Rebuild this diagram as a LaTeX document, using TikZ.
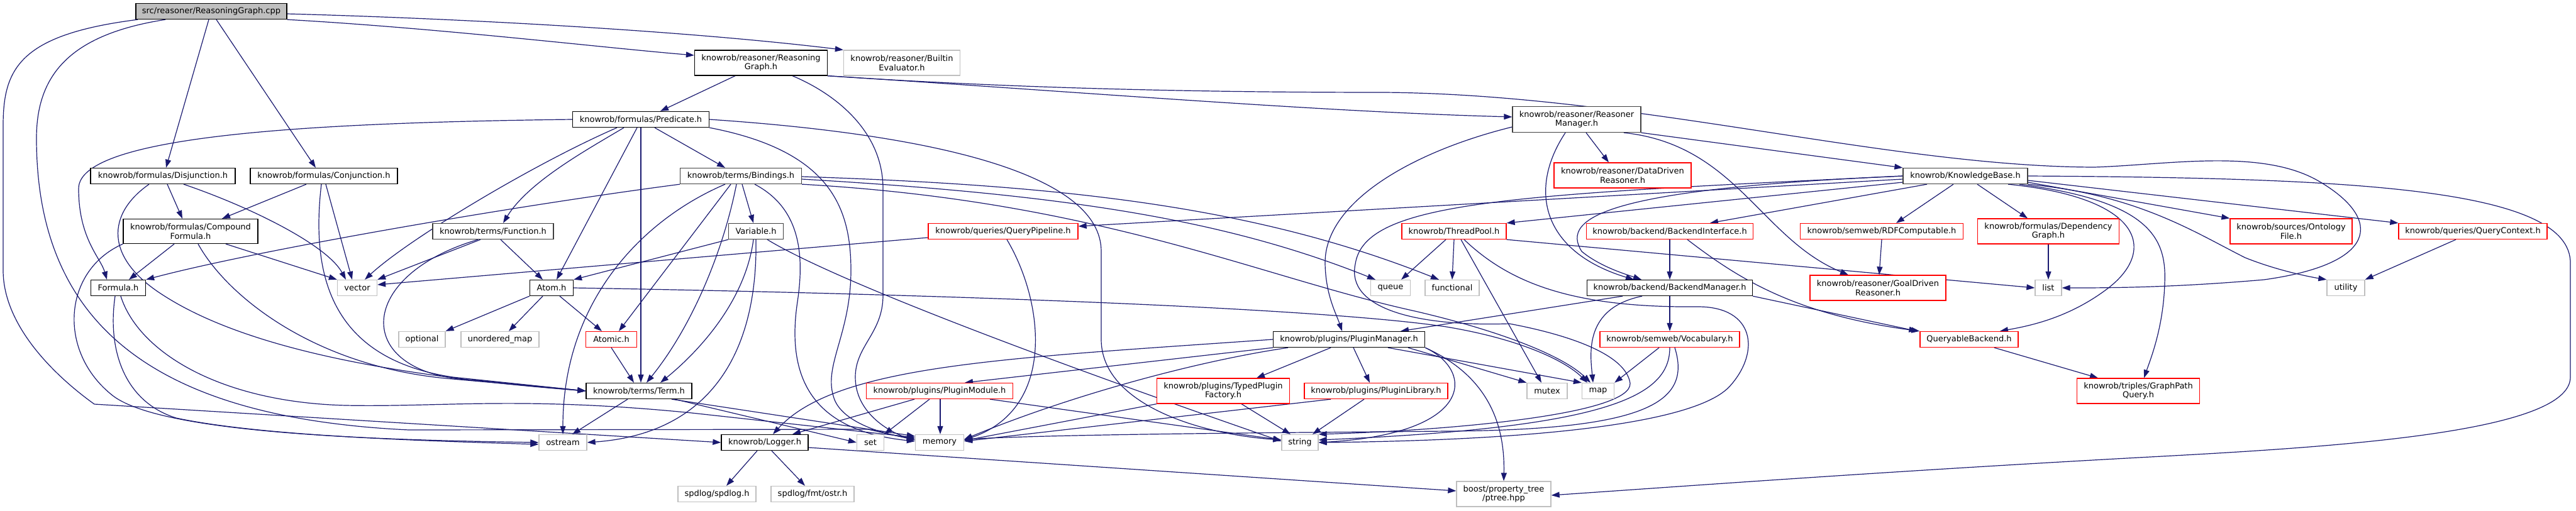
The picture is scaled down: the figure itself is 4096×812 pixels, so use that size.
\documentclass[tikz,border=0pt]{standalone}
\usepackage{fontspec}
\setmainfont{DejaVu Sans}
\usetikzlibrary{arrows.meta,backgrounds}
\definecolor{eb}{HTML}{191970}
\definecolor{sg}{HTML}{BFBFBF}
\definecolor{rd}{HTML}{FF0000}
\definecolor{dg}{HTML}{404040}
\begin{document}
\begin{tikzpicture}[x=1pt,y=-1pt,
  nd/.style={draw=black, fill=white, line width=1.3pt, inner sep=3pt, font=\fontsize{13}{14.5}\selectfont, align=center},
  sys/.style={nd, draw=sg},
  trunc/.style={nd, draw=rd},
  ed/.style={draw=eb, line width=1.2pt, -{Triangle[length=13pt,width=9pt]}}]
\useasboundingbox (0,0) rectangle (4096,812);
% ---------- nodes ----------
\node[nd, fill=sg, minimum width=240pt, minimum height=25pt] (cpp) at (336,18) {src/reasoner/ReasoningGraph.cpp};
\node[nd, minimum width=211pt, minimum height=40pt] (rgh) at (1210,100) {knowrob/reasoner/Reasoning\\Graph.h};
\node[sys, minimum width=185pt, minimum height=40pt] (be) at (1434,100) {knowrob/reasoner/Builtin\\Evaluator.h};
\node[nd, minimum width=217pt, minimum height=25pt] (pred) at (1019,190) {knowrob/formulas/Predicate.h};
\node[nd, draw=dg, minimum width=204pt, minimum height=41pt] (rm) at (2507,190) {knowrob/reasoner/Reasoner\\Manager.h};
\node[nd, minimum width=230pt, minimum height=25pt] (disj) at (259,280) {knowrob/formulas/Disjunction.h};
\node[nd, minimum width=234pt, minimum height=25pt] (conj) at (515,280) {knowrob/formulas/Conjunction.h};
\node[nd, draw=dg, minimum width=193pt, minimum height=25pt] (bind) at (1178,280) {knowrob/terms/Bindings.h};
\node[trunc, minimum width=218pt, minimum height=40pt] (ddr) at (2580,279) {knowrob/reasoner/DataDriven\\Reasoner.h};
\node[nd, draw=dg, minimum width=198pt, minimum height=25pt] (kb) at (3125,280) {knowrob/KnowledgeBase.h};
\node[nd, minimum width=214pt, minimum height=39pt] (cf) at (303,368) {knowrob/formulas/Compound\\Formula.h};
\node[nd, draw=dg, minimum width=192pt, minimum height=25pt] (func) at (784,368) {knowrob/terms/Function.h};
\node[nd, draw=dg, minimum width=87pt, minimum height=25pt] (var) at (1202,368) {Variable.h};
\node[trunc, minimum width=238pt, minimum height=25pt] (qp) at (1595,368) {knowrob/queries/QueryPipeline.h};
\node[trunc, minimum width=166pt, minimum height=25pt] (tp) at (2312,368) {knowrob/ThreadPool.h};
\node[trunc, minimum width=265pt, minimum height=25pt] (bi) at (2655,368) {knowrob/backend/BackendInterface.h};
\node[trunc, minimum width=259pt, minimum height=25pt] (rdf) at (2992,368) {knowrob/semweb/RDFComputable.h};
\node[trunc, minimum width=225pt, minimum height=40pt] (dg) at (3257,368) {knowrob/formulas/Dependency\\Graph.h};
\node[trunc, minimum width=194pt, minimum height=40pt] (of) at (3643,368) {knowrob/sources/Ontology\\File.h};
\node[trunc, minimum width=236pt, minimum height=25pt] (qc) at (3932,368) {knowrob/queries/QueryContext.h};
\node[nd, minimum width=87pt, minimum height=25pt] (formula) at (188,458) {Formula.h};
\node[sys, minimum width=63pt, minimum height=25pt] (vector) at (568,458) {vector};
\node[nd, minimum width=69pt, minimum height=25pt] (atom) at (877,458) {Atom.h};
\node[sys, minimum width=63pt, minimum height=25pt] (queue) at (2211,458) {queue};
\node[sys, minimum width=86pt, minimum height=25pt] (functional) at (2309,458) {functional};
\node[nd, minimum width=263pt, minimum height=25pt] (bm) at (2655,458) {knowrob/backend/BackendManager.h};
\node[trunc, minimum width=216pt, minimum height=40pt] (gdr) at (2986,458) {knowrob/reasoner/GoalDriven\\Reasoner.h};
\node[sys, minimum width=42pt, minimum height=25pt] (list) at (3257,458) {list};
\node[sys, minimum width=60pt, minimum height=25pt] (utility) at (3730,458) {utility};
\node[sys, minimum width=74pt, minimum height=25pt] (optional) at (671,540) {optional};
\node[sys, minimum width=124pt, minimum height=25pt] (umap) at (795,540) {unordered\_map};
\node[trunc, minimum width=81pt, minimum height=25pt] (atomic) at (972,540) {Atomic.h};
\node[nd, minimum width=241pt, minimum height=25pt] (pm) at (2145,540) {knowrob/plugins/PluginManager.h};
\node[trunc, minimum width=222pt, minimum height=25pt] (voc) at (2655,540) {knowrob/semweb/Vocabulary.h};
\node[trunc, minimum width=156pt, minimum height=25pt] (qb) at (3131,540) {QueryableBackend.h};
\node[nd, minimum width=168pt, minimum height=25pt] (term) at (1016,622) {knowrob/terms/Term.h};
\node[trunc, minimum width=233pt, minimum height=25pt] (pmod) at (1494,622) {knowrob/plugins/PluginModule.h};
\node[trunc, minimum width=211pt, minimum height=40pt] (tpf) at (1945,622) {knowrob/plugins/TypedPlugin\\Factory.h};
\node[trunc, minimum width=228pt, minimum height=25pt] (pl) at (2188,622) {knowrob/plugins/PluginLibrary.h};
\node[sys, minimum width=64pt, minimum height=25pt] (mutex) at (2460,622) {mutex};
\node[sys, minimum width=51pt, minimum height=25pt] (map) at (2541,622) {map};
\node[trunc, minimum width=195pt, minimum height=40pt] (gpq) at (3400,622) {knowrob/triples/GraphPath\\Query.h};
\node[sys, minimum width=76pt, minimum height=25pt] (ostream) at (895,704) {ostream};
\node[nd, minimum width=138pt, minimum height=25pt] (logger) at (1216,704) {knowrob/Logger.h};
\node[sys, minimum width=43pt, minimum height=25pt] (set) at (1384,704) {set};
\node[sys, minimum width=77pt, minimum height=25pt] (memory) at (1494,704) {memory};
\node[sys, minimum width=58pt, minimum height=25pt] (string) at (2067,704) {string};
\node[sys, minimum width=124pt, minimum height=25pt] (spdlog) at (1140,786) {spdlog/spdlog.h};
\node[sys, minimum width=132pt, minimum height=25pt] (fmt) at (1292,786) {spdlog/fmt/ostr.h};
\node[sys, minimum width=150pt, minimum height=40pt] (ptree) at (2391,786) {boost/property\_tree\\/ptree.hpp};
% ---------- edges ----------
\begin{scope}[on background layer]
\fill[white] (0,0) rectangle (4096,812);
% cpp
\draw[ed] (cpp.south east) .. controls (700,45) and (950,75) .. ([yshift=12pt]rgh.west);
\draw[ed] ([yshift=-4pt]cpp.east) .. controls (750,30) and (1100,50) .. (be.north west);
\draw[ed] ([xshift=-4pt]cpp.south) -- ([xshift=5pt]disj.north);
\draw[ed] ([xshift=8pt]cpp.south) -- ([xshift=-13pt]conj.north);
\draw[ed] ([xshift=-117pt]cpp.south) .. controls (30,55) and (5,110) .. (5,200) -- (5,430) .. controls (5,520) and (90,600) .. (150,643) -- (logger.west);
\draw[ed] ([xshift=-73pt]cpp.south) .. controls (110,55) and (58,120) .. (58,220) .. controls (58,520) and (250,665) .. (650,684) -- (1380,683) -- ([yshift=4pt]memory.west);
% ReasoningGraph.h
\draw[ed] ([xshift=-41pt]rgh.south) -- ([xshift=31pt]pred.north);
\draw[ed] (rgh.south east) .. controls (1700,145) and (2100,178) .. ([yshift=4pt]rm.west);
\draw[ed] (rgh.south east) .. controls (1600,140) and (1900,147) .. (2200,147) .. controls (2600,150) and (3000,265) .. (3330,266) .. controls (3450,262) and (3600,235) .. (3690,290) .. controls (3790,350) and (3780,420) .. (3600,445) .. controls (3450,458) and (3350,458) .. (list.east);
\draw[ed] ([xshift=50pt]rgh.south) .. controls (1330,150) and (1404,210) .. (1404,300) -- (1404,470) .. controls (1404,530) and (1360,550) .. (1360,600) .. controls (1360,660) and (1420,690) .. ([yshift=4pt]memory.west);
% Predicate.h
\draw[ed] (pred.west) .. controls (500,195) and (125,215) .. (125,300) .. controls (125,380) and (160,410) .. ([xshift=-18pt]formula.north);
\draw[ed] ([xshift=-38pt]pred.south) .. controls (850,260) and (650,380) .. ([xshift=12pt]vector.north);
\draw[ed] ([xshift=-27pt]pred.south) .. controls (930,240) and (840,290) .. ([xshift=16pt]func.north);
\draw[ed] ([xshift=-6pt]pred.south) -- ([xshift=8pt]atom.north);
\draw[ed] (pred.south) -- ([xshift=3pt]term.north);
\draw[ed] ([xshift=22pt]pred.south) -- ([xshift=-25pt]bind.north);
\draw[ed] (pred.east) .. controls (1500,215) and (1751,280) .. (1751,400) -- (1751,540) .. controls (1751,640) and (1900,690) .. ([yshift=4pt]string.west);
\draw[ed] (pred.south east) .. controls (1320,240) and (1353,330) .. (1353,430) .. controls (1353,530) and (1310,580) .. (1325,630) .. controls (1335,670) and (1400,690) .. ([yshift=6pt]memory.west);
% Bindings.h
\draw[ed] (bind.south west) .. controls (800,330) and (400,400) .. (formula.north east);
\draw[ed] ([xshift=-25pt]bind.south) .. controls (1020,350) and (895,480) .. (ostream.north);
\draw[ed] ([xshift=-16pt]bind.south) -- ([xshift=12pt]atomic.north);
\draw[ed] ([xshift=-7pt]bind.south) .. controls (1150,400) and (1100,520) .. ([xshift=12pt]term.north);
\draw[ed] ([xshift=2pt]bind.south) -- ([xshift=-4pt]var.north);
\draw[ed] ([xshift=22pt]bind.south) .. controls (1270,330) and (1280,400) .. (1268,480) .. controls (1250,600) and (1290,685) .. ([yshift=2pt]memory.west);
\draw[ed] ([yshift=-1pt]bind.east) .. controls (1700,295) and (2000,330) .. ([xshift=-21pt]functional.north);
\draw[ed] ([yshift=-5pt]bind.east) .. controls (1700,310) and (1950,350) .. ([xshift=-24pt]queue.north);
\draw[ed] (bind.south east) .. controls (1750,320) and (2000,440) .. (2250,495) .. controls (2400,530) and (2490,570) .. ([xshift=-12pt]map.north);
% Variable.h
\draw[ed] (var.south west) -- (atom.north east);
\draw[ed] ([xshift=-4pt]var.south) .. controls (1185,480) and (1110,560) .. ([xshift=34pt]term.north);
\draw[ed] (var.south) .. controls (1205,560) and (1130,690) .. (ostream.east);
\draw[ed] ([xshift=18pt]var.south) .. controls (1350,460) and (1800,620) .. ([yshift=2pt]string.west);
% Function.h
\draw[ed] ([xshift=-20pt]func.south) -- (vector.north east);
\draw[ed] ([xshift=-24pt]func.south) .. controls (560,440) and (560,600) .. (760,605) -- (term.west);
\draw[ed] ([xshift=12pt]func.south) -- ([xshift=-14pt]atom.north);
% Disjunction.h
\draw[ed] ([xshift=7pt]disj.south) -- ([xshift=-13pt]cf.north);
\draw[ed] ([xshift=33pt]disj.south) .. controls (400,330) and (520,390) .. ([xshift=-18pt]vector.north);
\draw[ed] ([xshift=-22pt]disj.south) .. controls (170,340) and (165,410) .. (260,470) .. controls (400,560) and (650,600) .. (term.west);
% Conjunction.h
\draw[ed] ([xshift=-28pt]conj.south) -- ([xshift=50pt]cf.north);
\draw[ed] ([xshift=3pt]conj.south) -- ([xshift=-8pt]vector.north);
\draw[ed] ([xshift=-4pt]conj.south) .. controls (495,430) and (520,570) .. (720,600) -- (term.west);
% CompoundFormula.h
\draw[ed] ([xshift=-26pt]cf.south) -- ([xshift=17pt]formula.north);
\draw[ed] ([xshift=12pt]cf.south) .. controls (360,470) and (500,585) .. (720,603) -- (term.west);
\draw[ed] ([xshift=56pt]cf.south) -- (vector.north west);
\draw[ed] (cf.south west) .. controls (100,430) and (90,560) .. (180,630) .. controls (260,690) and (600,700) .. (ostream.west);
% Formula.h
\draw[ed] ([xshift=-5pt]formula.south) .. controls (170,560) and (200,640) .. (280,665) .. controls (420,695) and (700,702) .. ([yshift=-3pt]ostream.west);
\draw[ed] ([xshift=4pt]formula.south) .. controls (220,560) and (350,640) .. (550,645) .. controls (700,648) and (830,630) .. (1100,657) -- ([yshift=8pt]memory.west);
% Term.h
\draw[ed] ([xshift=-18pt]term.south) -- ([xshift=15pt]ostream.north);
\draw[ed] ([xshift=57pt]term.south) -- (set.west);
\draw[ed] ([xshift=52pt]term.south) -- ([yshift=10pt]memory.west);
% Atom.h
\draw[ed] (atom.south west) -- (optional.north east);
\draw[ed] ([xshift=-14pt]atom.south) -- ([xshift=14pt]umap.north);
\draw[ed] ([xshift=13pt]atom.south) -- ([xshift=-15pt]atomic.north);
\draw[ed] (atom.east) .. controls (1500,468) and (2100,490) .. (2300,520) .. controls (2420,540) and (2490,575) .. ([xshift=-17pt]map.north);
\draw[ed] (atomic.south) -- ([xshift=-8pt]term.north);
% QueryPipeline.h
\draw[ed] ([yshift=-10pt]qp.west) -- ([yshift=5pt]vector.east);
\draw[ed] ([xshift=6pt]qp.south) .. controls (1660,480) and (1680,650) .. ([yshift=4pt]memory.east);
% ReasonerManager.h
\draw[ed] ([yshift=-12pt]rm.west) .. controls (2250,240) and (2105,320) .. (2107,420) .. controls (2108,470) and (2125,500) .. ([xshift=-11pt]pm.north);
\draw[ed] ([xshift=-18pt]rm.south) .. controls (2430,300) and (2450,400) .. ([xshift=-57pt]bm.north);
\draw[ed] ([xshift=15pt]rm.south) -- ([xshift=-22pt]ddr.north);
\draw[ed] ([xshift=75pt]rm.south) .. controls (2760,230) and (2800,380) .. ([xshift=-47pt]gdr.north);
\draw[ed] (rm.south east) -- (kb.north west);
% KnowledgeBase.h
\draw[ed] ([yshift=-5pt]kb.west) -- ([yshift=8pt]qp.east);
\draw[ed] ([yshift=-10pt]kb.west) -- (tp.north east);
\draw[ed] ([xshift=-61pt]kb.south) -- ([xshift=64pt]bi.north);
\draw[ed] ([xshift=-19pt]kb.south) -- ([xshift=23pt]rdf.north);
\draw[ed] ([xshift=19pt]kb.south) -- ([xshift=-33pt]dg.north);
\draw[ed] (kb.east) .. controls (3750,283) and (4090,300) .. (4087,420) -- (4087,600) .. controls (4087,690) and (3700,712) .. (3400,728) .. controls (3000,750) and (2700,772) .. ([yshift=-2pt]ptree.east);
\draw[ed] ([yshift=-7pt]kb.east) -- (qc.north west);
\draw[ed] ([yshift=-10pt]kb.east) -- (of.north west);
\draw[ed] (kb.south east) .. controls (3400,310) and (3490,370) .. (3570,410) .. controls (3620,430) and (3670,440) .. (utility.north west);
\draw[ed] ([xshift=68pt]kb.south) .. controls (3410,315) and (3430,400) .. (3350,460) .. controls (3290,505) and (3230,518) .. ([xshift=49pt]qb.north);
\draw[ed] ([xshift=86pt]kb.south) .. controls (3420,320) and (3445,380) .. (3442,450) .. controls (3440,520) and (3420,570) .. ([xshift=9pt]gpq.north);
\draw[ed] (kb.west) .. controls (2560,300) and (2480,345) .. (2515,400) .. controls (2545,425) and (2590,438) .. ([xshift=-45pt]bm.north);
\draw[ed] (kb.west) .. controls (2400,310) and (2170,320) .. (2155,420) .. controls (2140,490) and (2250,520) .. (2400,515) .. controls (2480,530) and (2585,560) .. (2592,610) .. controls (2594,660) and (2300,685) .. (string.north east);
% BackendInterface.h
\draw[ed] (bi) -- (bm);
\draw[ed] ([xshift=28pt]bi.south) .. controls (2760,440) and (2850,500) .. (qb.north west);
% BackendManager.h
\draw[ed] ([xshift=-75pt]bm.south) -- ([xshift=82pt]pm.north);
\draw[ed] ([xshift=-44pt]bm.south) .. controls (2520,490) and (2528,560) .. ([xshift=-8pt]map.north);
\draw[ed] (bm) -- (voc);
\draw[ed] (bm.south east) -- ([xshift=-4pt]qb.north west);
% PluginManager.h
\draw[ed] (pm.west) .. controls (1600,570) and (1330,580) .. ([xshift=13pt]logger.north);
\draw[ed] (pm.south west) -- ([xshift=40pt]pmod.north);
\draw[ed] ([xshift=-97pt]pm.south) .. controls (1900,575) and (1700,630) .. ([yshift=5pt]memory.east);
\draw[ed] ([xshift=-29pt]pm.south) -- ([xshift=53pt]tpf.north);
\draw[ed] ([xshift=7pt]pm.south) -- ([xshift=-10pt]pl.north);
\draw[ed] ([xshift=62pt]pm.south) -- (map.north west);
\draw[ed] ([xshift=94pt]pm.south) -- (mutex.north west);
\draw[ed] (pm.south east) .. controls (2345,590) and (2345,690) .. (string.east);
\draw[ed] (pm.south east) .. controls (2370,600) and (2393,680) .. (ptree.north);
% PluginModule.h
\draw[ed] ([xshift=-40pt]pmod.south) -- ([xshift=44pt]logger.north);
\draw[ed] ([xshift=-16pt]pmod.south) -- (set.north east);
\draw[ed] ([xshift=1pt]pmod.south) -- ([xshift=1pt]memory.north);
\draw[ed] ([xshift=80pt]pmod.south) -- ([yshift=4pt]string.west);
% TypedPluginFactory.h
\draw[ed] (tpf.south west) -- ([yshift=3pt]memory.east);
\draw[ed] ([xshift=29pt]tpf.south) -- ([xshift=-15pt]string.north);
% PluginLibrary.h
\draw[ed] ([xshift=-72pt]pl.south) -- ([yshift=2pt]memory.east);
\draw[ed] ([xshift=-19pt]pl.south) -- ([xshift=20pt]string.north);
% Logger.h
\draw[ed] ([xshift=-12pt]logger.south) -- ([xshift=15pt]spdlog.north);
\draw[ed] ([xshift=11pt]logger.south) -- ([xshift=-12pt]fmt.north);
\draw[ed] ([yshift=-8pt]logger.east) -- ([yshift=5pt]ptree.west);
% ThreadPool.h
\draw[ed] ([xshift=-13pt]tp.south) -- ([xshift=17pt]queue.north);
\draw[ed] (tp.south) -- (functional.north);
\draw[ed] ([xshift=11pt]tp.south) -- ([xshift=-9pt]mutex.north);
\draw[ed] ([xshift=16pt]tp.south) .. controls (2400,450) and (2500,490) .. (2700,488) .. controls (2790,488) and (2800,560) .. (2750,615) .. controls (2680,690) and (2300,702) .. (string.east);
\draw[ed] (tp.south east) -- (list.west);
% Vocabulary.h
\draw[ed] ([xshift=-17pt]voc.south) -- (map.north east);
\draw[ed] (voc.south) .. controls (2655,630) and (2560,680) .. ([yshift=4pt]string.east);
\draw[ed] ([xshift=8pt]voc.south) .. controls (2690,640) and (2620,684) .. (2300,686) .. controls (2100,688) and (1700,690) .. ([yshift=5pt]memory.east);
% others
\draw[ed] (rdf.south) -- ([xshift=2pt]gdr.north);
\draw[ed] (dg) -- (list);
\draw[ed] ([xshift=-27pt]qc.south) -- (utility.north east);
\draw[ed] ([xshift=40pt]qb.south) -- ([xshift=-64pt]gpq.north);
\end{scope}
\end{tikzpicture}
\end{document}
